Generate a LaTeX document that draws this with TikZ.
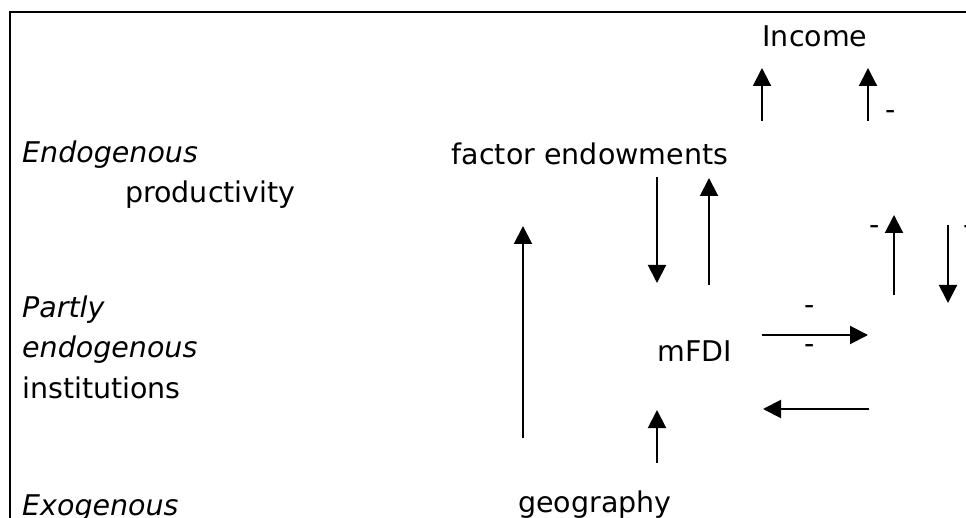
\documentclass[tikz,border=0pt]{standalone}
\usepackage{fontspec}
\setmainfont{DejaVu Sans}
\usetikzlibrary{arrows.meta}
\begin{document}
\begin{tikzpicture}[x=1pt,y=-1pt,
  lbl/.style={inner sep=0pt, anchor=base west, font=\fontsize{28.5}{34}\selectfont},
  ctr/.style={inner sep=0pt, anchor=base, font=\fontsize{28.5}{34}\selectfont},
  arr/.style={line width=2pt, -{Triangle[length=18pt,width=18pt]}},
  minus/.style={inner sep=0pt, font=\fontsize{28.5}{34}\selectfont}
]
\useasboundingbox (0,0) rectangle (966,518);
\draw[line width=2.2pt] (966,12) -- (10,12) -- (10,518);
% left labels
\node[lbl] (endo) at (22,163) {\itshape Endogenous};
\node[lbl] (prod) at (125,203) {productivity};
\node[lbl] (partly) at (22,318) {\itshape Partly};
\node[lbl] (endo2) at (22,358) {\itshape endogenous};
\node[lbl] (inst) at (22,398) {institutions};
\node[lbl] (exo) at (22,515) {\itshape Exogenous};
% main nodes
\node[ctr] (income) at (815,47) {Income};
\node[ctr] (fe) at (590,165) {factor endowments};
\node[ctr] (mfdi) at (695,361) {mFDI};
\node[ctr] (geo) at (595,512) {geography};
% minus signs
\node[minus] (m1) at (891,115) {-};
\node[minus] (m2) at (875,230) {-};
\node[minus] (m3) at (969,230) {-};
\node[minus] (m4) at (810,310) {-};
\node[minus] (m5) at (810,349) {-};
% arrow end points
\coordinate (a1s) at (762,121); \coordinate (a1e) at (762,68);
\coordinate (a2s) at (868,121); \coordinate (a2e) at (868,68);
\coordinate (a3s) at (657,177); \coordinate (a3e) at (657,283);
\coordinate (a4s) at (709,285); \coordinate (a4e) at (709,178);
\coordinate (a5s) at (523,438); \coordinate (a5e) at (523,226);
\coordinate (a6s) at (762,335); \coordinate (a6e) at (868,335);
\coordinate (a7s) at (869,409); \coordinate (a7e) at (763,409);
\coordinate (a8s) at (657,463); \coordinate (a8e) at (657,410);
\coordinate (a9s) at (894,295); \coordinate (a9e) at (894,215);
\coordinate (a10s) at (948,225); \coordinate (a10e) at (948,303);
\foreach \i in {1,...,10} \draw[arr] (a\i s) -- (a\i e);
\end{tikzpicture}
\end{document}
